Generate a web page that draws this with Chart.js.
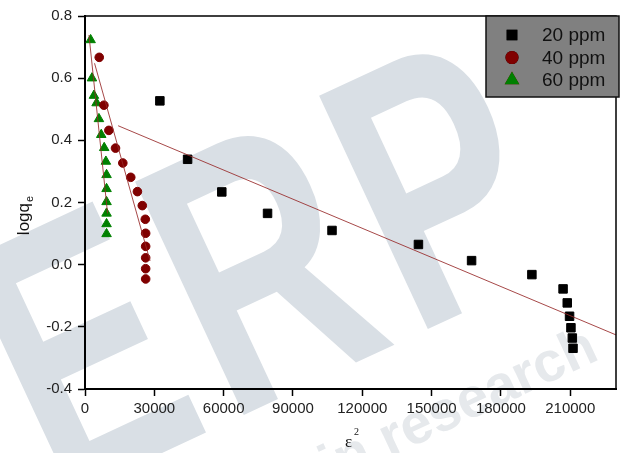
<!DOCTYPE html>
<html>
<head>
<meta charset="utf-8">
<script src="https://cdn.jsdelivr.net/npm/chart.js@4"></script>
<style>
  body { margin: 0; background: #fff; }
  #wrap { width: 623px; height: 453px; }
</style>
</head>
<body>
<div id="wrap"><canvas id="chart" width="623" height="453"></canvas></div>
<script>
const x20 = [32400, 44400, 59200, 79000, 106900, 144300, 167300, 193400, 206900, 208700, 209700, 210300, 210900, 211200];
const y20 = [0.527, 0.339, 0.234, 0.165, 0.110, 0.065, 0.013, -0.032, -0.078, -0.123, -0.166, -0.203, -0.236, -0.269];

const x40 = [6160, 8180, 10330, 13200, 16360, 19800, 22680, 24790, 26090, 26250, 26250, 26250, 26250, 26250];
const y40 = [0.667, 0.513, 0.432, 0.375, 0.327, 0.281, 0.235, 0.190, 0.146, 0.101, 0.059, 0.022, -0.013, -0.046];

const x60 = [2430, 3010, 3870, 5020, 6030, 7030, 8310, 9040, 9330, 9330, 9330, 9330, 9330, 9330];
const y60 = [0.723, 0.600, 0.544, 0.520, 0.469, 0.418, 0.376, 0.332, 0.289, 0.244, 0.202, 0.165, 0.131, 0.099];

// linear fit lines (end points)
const fit20X = [14330, 229800];
const fit20Y = [0.447, -0.226];
const fit40X = [4130, 28150];
const fit40Y = [0.648, 0.012];
const fit60X = [1720, 9770];
const fit60Y = [0.739, 0.165];

const seriesLabels = ['20 ppm', '40 ppm', '60 ppm'];
const xTicks = [0, 30000, 60000, 90000, 120000, 150000, 180000, 210000];
const yTicks = [-0.4, -0.2, 0.0, 0.2, 0.4, 0.6, 0.8];

const pts = (xs, ys) => xs.map((x, i) => ({ x, y: ys[i] }));
const FONT = 'Liberation Sans, Arial, sans-serif';
const FIT_COLOR = 'rgba(150,40,40,0.85)';

const fitLine = (xs, ys) => ({
  type: 'line',
  data: pts(xs, ys),
  borderColor: FIT_COLOR,
  borderWidth: 1,
  pointRadius: 0,
  fill: false,
  tension: 0,
  isFit: true,
});

// watermark + white background
const background = {
  id: 'background',
  beforeDraw(chart) {
    const ctx = chart.ctx;
    ctx.save();
    ctx.fillStyle = '#fff';
    ctx.fillRect(0, 0, chart.width, chart.height);
    ctx.fillStyle = '#d9dfe5';
    ctx.translate(57, 502);
    ctx.rotate(-25 * Math.PI / 180);
    ctx.scale(0.7, 1);
    ctx.font = 'bold 374px ' + FONT;
    ctx.letterSpacing = '20px';
    ctx.fillText('ERP', 0, 0);
    ctx.restore();

    ctx.save();
    ctx.fillStyle = '#e6e9ec';
    ctx.translate(330, 485);
    ctx.rotate(-25 * Math.PI / 180);
    ctx.font = 'bold 56px ' + FONT;
    ctx.fillText('in research', 0, 0);
    ctx.restore();
  }
};

// frame, titles and legend box
const decor = {
  id: 'decor',
  afterDraw(chart) {
    const ctx = chart.ctx;
    const a = chart.chartArea;
    ctx.save();
    ctx.strokeStyle = '#000';
    ctx.lineWidth = 1.5;
    ctx.beginPath();
    ctx.moveTo(a.left, a.top);
    ctx.lineTo(a.right, a.top);
    ctx.lineTo(a.right, a.bottom);
    ctx.stroke();

    // y title: logq with subscript e
    ctx.fillStyle = '#111';
    ctx.translate(29, 216);
    ctx.rotate(-Math.PI / 2);
    ctx.font = '17px ' + FONT;
    const main = 'logq';
    const w1 = ctx.measureText(main).width;
    ctx.font = '11px ' + FONT;
    const w2 = ctx.measureText('e').width;
    const x0 = -(w1 + w2) / 2;
    ctx.font = '17px ' + FONT;
    ctx.textBaseline = 'alphabetic';
    ctx.fillText(main, x0, 0);
    ctx.font = '11px ' + FONT;
    ctx.fillText('e', x0 + w1 + 1, 4);
    ctx.restore();

    // x title: epsilon squared
    ctx.save();
    ctx.fillStyle = '#111';
    ctx.font = '17px Liberation Serif, serif';
    ctx.textBaseline = 'alphabetic';
    ctx.fillText('\u03b5', 345, 447);
    ctx.font = '10px Liberation Serif, serif';
    ctx.fillText('2', 354, 435);
    ctx.restore();

    // legend
    ctx.save();
    ctx.fillStyle = '#808080';
    ctx.fillRect(486, 16, 133, 81);
    ctx.strokeStyle = '#111';
    ctx.lineWidth = 1.5;
    ctx.strokeRect(486, 16, 133, 81);
    const marks = chart.data.datasets.filter(d => !d.isFit);
    const legendRadius = [6.5, 5.8, 7];
    marks.forEach((d, i) => {
      const y = 35 + i * 22.5;
      Chart.helpers.drawPoint(ctx, {
        pointStyle: d.pointStyle,
        radius: legendRadius[i],
        borderWidth: 1,
        rotation: 0,
      }, 512, y);
      ctx.fillStyle = d.backgroundColor;
      ctx.strokeStyle = d.borderColor;
      ctx.fill();
      ctx.stroke();
      ctx.fillStyle = '#111';
      ctx.font = '19px ' + FONT;
      ctx.textBaseline = 'middle';
      ctx.fillText(d.label, 542, y + 1);
    });
    ctx.restore();
  }
};

new Chart(document.getElementById('chart'), {
  type: 'scatter',
  data: {
    datasets: [
      fitLine(fit20X, fit20Y),
      fitLine(fit40X, fit40Y),
      fitLine(fit60X, fit60Y),
      { label: seriesLabels[0], data: pts(x20, y20), pointStyle: 'rect', pointRadius: 6,
        backgroundColor: '#000', borderColor: '#000', borderWidth: 1 },
      { label: seriesLabels[1], data: pts(x40, y40), pointStyle: 'circle', pointRadius: 4.3,
        backgroundColor: '#800000', borderColor: '#800000', borderWidth: 1 },
      { label: seriesLabels[2], data: pts(x60, y60), pointStyle: 'triangle', pointRadius: 5.5,
        backgroundColor: '#008000', borderColor: '#008000', borderWidth: 1 },
    ],
  },
  options: {
    responsive: false,
    animation: false,
    devicePixelRatio: 1,
    layout: { padding: { top: 16, right: 4, left: 0, bottom: 0 } },
    plugins: { legend: { display: false }, tooltip: { enabled: false } },
    scales: {
      x: {
        type: 'linear', min: 0, max: 229800,
        grid: { drawOnChartArea: false, tickLength: 7, tickColor: '#000', tickWidth: 1.5 },
        border: { color: '#000', width: 2 },
        ticks: { color: '#222', font: { family: FONT, size: 15 }, padding: 4, maxRotation: 0, autoSkip: false,
                 callback: v => String(v) },
        afterBuildTicks: s => { s.ticks = xTicks.map(v => ({ value: v })); },
        afterFit: s => { s.height = 64; },
      },
      y: {
        type: 'linear', min: -0.4, max: 0.8,
        grid: { drawOnChartArea: false, tickLength: 7, tickColor: '#000', tickWidth: 1.5 },
        border: { color: '#000', width: 2 },
        ticks: { color: '#222', font: { family: FONT, size: 15 }, padding: 6, callback: v => v.toFixed(1) },
        afterBuildTicks: s => { s.ticks = yTicks.map(v => ({ value: v })); },
        afterFit: s => { s.width = 85; },
      },
    },
  },
  plugins: [background, decor],
});
</script>
</body>
</html>
